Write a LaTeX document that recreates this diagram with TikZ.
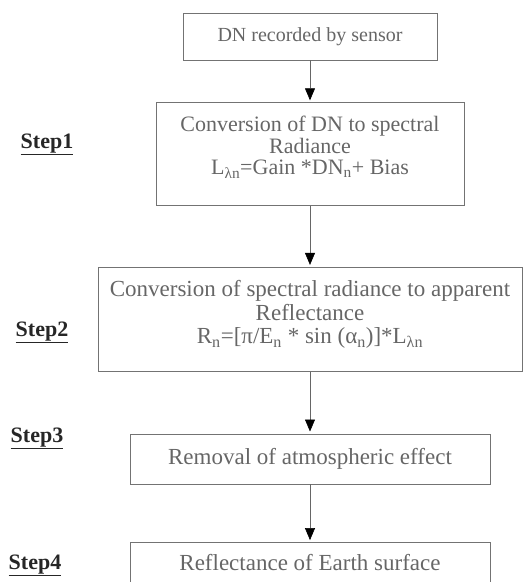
\documentclass[tikz,border=0pt]{standalone}
\usepackage{fontspec}
\setmainfont{Liberation Serif}
\usetikzlibrary{positioning,arrows.meta}

\begin{document}
\begin{tikzpicture}[
    x=1pt, y=-1pt,
    node distance=60pt,
    block/.style={rectangle, draw=black!55, line width=0.6pt, align=center, text=black!60, font=\fontsize{23}{24}\selectfont, inner sep=0pt},
    steplabel/.style={anchor=base, text=black!85, font=\fontsize{22}{24}\selectfont\bfseries},
    arrow/.style={-{Triangle[width=10pt,length=12pt,black]}, draw=black!60, line width=0.6pt, shorten >=2pt}
]
\useasboundingbox (0,0) rectangle (527,582);

\node[block, minimum width=254pt, minimum height=47pt, font=\fontsize{20}{22}\selectfont] (sensor) at (310,36.5) {DN recorded by sensor};
\node[block, minimum width=308pt, minimum height=103pt, below=42pt of sensor,
      font=\fontsize{22}{21.5}\selectfont] (radiance)
    {Conversion of DN to spectral\\ Radiance\\ L\textsubscript{λn}=Gain *DN\textsubscript{n}+ Bias\\[-4pt]};
\node[block, minimum width=424pt, minimum height=104pt, below=61pt of radiance,
      font=\fontsize{23}{23.5}\selectfont] (reflect)
    {Conversion of spectral radiance to apparent\\ Reflectance\\ R\textsubscript{n}=[π/E\textsubscript{n} * sin (α\textsubscript{n})]*L\textsubscript{λn}\\[-9.5pt]};
\node[block, minimum width=360pt, minimum height=50pt, below=62pt of reflect] (atmos) {Removal of atmospheric effect};
\node[block, minimum width=360pt, minimum height=41pt, below=58pt of atmos] (earth) {Reflectance of Earth surface};

% step labels
\node[steplabel] (step1) at (47,148) {\underline{Step1}};
\node[steplabel] (step2) at (42,336) {\underline{Step2}};
\node[steplabel] (step3) at (37,442) {\underline{Step3}};
\node[steplabel] (step4) at (35,569) {\underline{Step4}};

\draw[arrow] (sensor) -- (radiance);
\draw[arrow] (radiance) -- (reflect);
\draw[arrow] (reflect) -- (atmos);
\draw[arrow] (atmos) -- (earth);
\end{tikzpicture}
\end{document}
